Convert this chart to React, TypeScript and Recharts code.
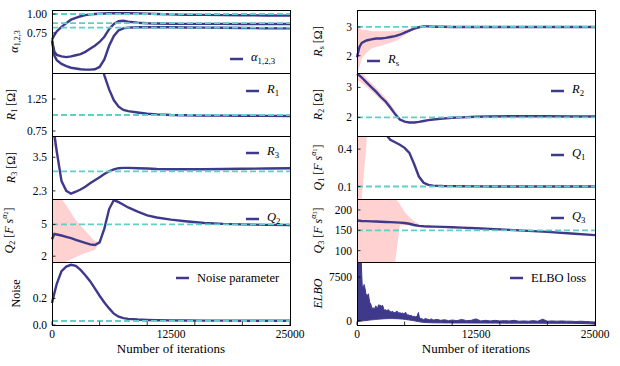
import React from 'react';
import { ComposedChart, Line, Area, XAxis, YAxis, ReferenceLine, Legend } from 'recharts';

const iterations = [0, 250, 500, 1000, 1500, 2000, 2500, 3000, 3500, 4000, 4500, 5000, 5500, 6000, 6500, 7000, 7500, 8000, 9000, 10000, 11000, 12500, 14000, 16000, 18000, 20000, 22500, 25000];

const alpha1 = [0.66, 0.72, 0.77, 0.83, 0.88, 0.925, 0.95, 0.97, 0.985, 0.995, 1.0, 1.004, 1.007, 1.01, 1.01, 1.01, 1.01, 1.01, 1.008, 1.005, 1.0, 0.995, 0.99, 0.988, 0.985, 0.983, 0.98, 0.978];
const alpha2 = [0.65, 0.5, 0.46, 0.44, 0.43, 0.44, 0.455, 0.47, 0.5, 0.54, 0.58, 0.63, 0.7, 0.8, 0.87, 0.905, 0.91, 0.9, 0.885, 0.878, 0.875, 0.872, 0.87, 0.87, 0.87, 0.868, 0.868, 0.868];
const alpha3 = [0.65, 0.45, 0.39, 0.34, 0.31, 0.29, 0.28, 0.27, 0.265, 0.265, 0.27, 0.3, 0.4, 0.58, 0.71, 0.785, 0.81, 0.82, 0.825, 0.825, 0.825, 0.825, 0.822, 0.82, 0.818, 0.815, 0.812, 0.81];
const alphaTrue = [1.0, 0.88, 0.82];

const r1 = [3.2, 3.1, 3.0, 2.9, 2.8, 2.7, 2.6, 2.5, 2.4, 2.3, 2.2, 1.95, 1.62, 1.4, 1.23, 1.13, 1.08, 1.06, 1.04, 1.02, 1.01, 1.0, 0.995, 0.99, 0.99, 0.988, 0.987, 0.985];
const r1True = [1.0];

const r3 = [4.8, 4.3, 3.7, 2.65, 2.3, 2.2, 2.27, 2.35, 2.45, 2.57, 2.68, 2.79, 2.9, 3.0, 3.07, 3.11, 3.12, 3.12, 3.11, 3.1, 3.08, 3.07, 3.07, 3.07, 3.08, 3.09, 3.1, 3.11];
const r3Lo = [3.6, 3.9, 3.5, 2.6];
const r3Hi = [4.5, 4.5, 4.1, 2.75];
const r3True = [3.0];

const q2 = [3.6, 4.1, 4.05, 3.95, 3.82, 3.7, 3.55, 3.4, 3.25, 3.12, 3.05, 3.3, 4.6, 6.45, 7.3, 7.1, 6.85, 6.6, 6.2, 5.85, 5.65, 5.45, 5.3, 5.14, 5.05, 5.0, 4.96, 4.95];
const q2Lo = [1.2, 1.2, 1.2, 1.3, 1.5, 1.7, 1.9, 2.1, 2.3, 2.45, 2.6, 3.25];
const q2Hi = [7.6, 7.6, 7.6, 7.4, 6.8, 6.1, 5.4, 4.9, 4.4, 3.9, 3.4, 3.35];
const q2True = [5];

const noise = [0.165, 0.24, 0.31, 0.405, 0.44, 0.453, 0.445, 0.415, 0.375, 0.33, 0.275, 0.22, 0.17, 0.125, 0.085, 0.062, 0.052, 0.046, 0.041, 0.038, 0.036, 0.035, 0.034, 0.033, 0.033, 0.032, 0.032, 0.032];
const noiseTrue = [0.03];

const rs = [1.95, 2.3, 2.45, 2.53, 2.57, 2.6, 2.6, 2.62, 2.65, 2.68, 2.73, 2.8, 2.87, 2.94, 2.99, 3.02, 3.02, 3.01, 3.01, 3.0, 3.0, 3.0, 3.0, 3.0, 3.0, 3.0, 3.0, 3.0];
const rsLo = [1.35, 1.6, 1.9, 2.1, 2.25, 2.3, 2.35, 2.4, 2.45, 2.5, 2.6, 2.7, 2.82, 2.92, 2.98];
const rsHi = [3.0, 2.95, 2.9, 2.9, 2.85, 2.85, 2.85, 2.85, 2.85, 2.85, 2.88, 2.9, 2.93, 2.97, 3.0];
const rsTrue = [3];

const r2 = [3.45, 3.4, 3.33, 3.17, 3.01, 2.86, 2.68, 2.53, 2.33, 2.11, 1.93, 1.86, 1.83, 1.83, 1.85, 1.88, 1.91, 1.93, 1.96, 1.99, 2.0, 2.02, 2.03, 2.04, 2.04, 2.04, 2.03, 2.03];
const r2Lo = [3.25, 3.2, 3.15, 3.02, 2.88, 2.74, 2.58, 2.43, 2.25, 2.05, 1.9, 1.84];
const r2Hi = [3.5, 3.5, 3.5, 3.3, 3.15, 3.0, 2.82, 2.66, 2.46, 2.22, 2.0, 1.9];
const r2True = [2];

const q1 = [1.2, 1.1, 1.0, 0.85, 0.75, 0.65, 0.58, 0.52, 0.475, 0.455, 0.435, 0.41, 0.37, 0.28, 0.18, 0.13, 0.113, 0.107, 0.104, 0.103, 0.102, 0.101, 0.1, 0.1, 0.1, 0.1, 0.1, 0.1];
const q1Lo = [0, 0, 0, 0.45];
const q1Hi = [0.52, 0.52, 0.52, 0.52];
const q1True = [0.1];

const q3 = [174, 173.5, 173, 172.5, 172, 171.5, 171, 170.5, 170, 169.5, 169, 168, 166, 163, 161, 160, 159.5, 159, 158.5, 157.5, 156.5, 155, 153.5, 151, 148.5, 146, 142, 138];
const q3Lo = [70, 70, 70, 70, 70, 70, 70, 70, 70, 70, 162, 163, 162, 160, 159, 159.5];
const q3Hi = [230, 230, 230, 230, 230, 230, 230, 230, 230, 230, 215, 195, 183, 172, 165, 160.5];
const q3True = [150];

// ELBO loss envelope (upper / lower edge of the noisy trace)
const elboIters = [0, 100, 200, 300, 400, 450, 500, 550, 650, 750, 850, 950, 1050, 1150, 1200, 1250, 1350, 1450, 1550, 1700, 1850, 1950, 2050, 2150, 2250, 2400, 2550, 2700, 2850, 3000, 3150, 3300, 3450, 3600, 3750, 3900, 4050, 4200, 4350, 4500, 4650, 4800, 4950, 5100, 5250, 5400, 5550, 5700, 5850, 6000, 6150, 6300, 6450, 6550, 6700, 6850, 7000, 7200, 7400, 7600, 7800, 8000, 8400, 8800, 9200, 9600, 10000, 10500, 11000, 11500, 12000, 12500, 13000, 13500, 14000, 14500, 15000, 15500, 16000, 16500, 17000, 17500, 18000, 18500, 19000, 19500, 20000, 20500, 21000, 21500, 22000, 22500, 23000, 23500, 24000, 24500, 25000];
const elboHi = [12000, 11000, 12000, 10500, 11500, 10200, 7800, 6000, 5600, 6200, 5500, 4400, 4500, 4300, 4600, 4000, 3000, 2900, 2100, 2200, 2000, 2500, 2400, 2000, 2700, 2650, 2500, 2600, 1800, 1850, 1700, 1900, 1550, 1500, 1600, 1350, 1450, 1650, 1300, 1350, 1250, 1300, 1100, 1450, 950, 1000, 850, 900, 700, 750, 650, 700, 1400, 600, 350, 300, 200, 350, 250, 150, 300, 100, 200, 50, 150, 0, 100, 0, 200, 0, 50, 300, -50, 50, -50, 50, -50, 0, -50, 50, -100, -50, -100, 0, -100, 250, -100, -50, -100, -50, -100, -100, -150, -100, -150, -200, -250];
const elboLo = [-150, -150, -150, -120, -100, -100, -80, -60, -40, -20, 0, 20, 40, 60, 70, 80, 100, 120, 140, 160, 180, 200, 210, 220, 240, 260, 280, 300, 320, 330, 340, 350, 350, 350, 350, 345, 340, 330, 320, 300, 280, 260, 230, 200, 170, 130, 90, 50, 10, -30, -80, -120, -160, -200, -230, -260, -300, -320, -340, -350, -360, -370, -380, -380, -390, -390, -400, -400, -400, -400, -410, -410, -410, -420, -420, -420, -420, -430, -430, -430, -430, -440, -440, -440, -440, -450, -450, -450, -460, -460, -460, -470, -480, -490, -520, -550, -600];

const xTickMarks = [0, 5000, 10000, 12500, 15000, 20000, 25000];
const xTickLabels = [0, 12500, 25000];

const SERIF = '"Liberation Serif", "Times New Roman", serif';
const PURPLE = '#3f398c';
const CYAN = '#5fcfc7';
const PINK = '#ffa3a3';

const ROW_TOP = 10;
const ROW_H = 63;
const AXIS_W = 52;
const PLOT_W = 238;
const RIGHT_PAD = 20;
const TOP_PAD = 8;
const XAXIS_H = 40;
const COL_LEFT = [0, 305];

function rowsFor(series: Record<string, number[]>, lo?: number[], hi?: number[]) {
  return iterations.map((it, i) => {
    const r: any = { it };
    Object.keys(series).forEach((k) => (r[k] = series[k][i]));
    if (lo && hi) r.band = lo[i] == null || hi[i] == null ? null : [lo[i], hi[i]];
    return r;
  });
}

const elboRows = elboIters.map((it, i) => ({ it, band: [elboLo[i], elboHi[i]] }));

function XTick(props: any) {
  const { x, y, payload, showLabel } = props;
  const v = payload.value;
  return (
    <g>
      {v % 5000 === 0 && <line x1={x} x2={x} y1={y} y2={y - 3.5} stroke="#000" strokeWidth={0.8} />}
      {showLabel && xTickLabels.includes(v) && (
        <text x={x} y={y + 12.5} textAnchor="middle" fontFamily={SERIF} fontSize={11.5} fill="#000">
          {v}
        </text>
      )}
    </g>
  );
}

function YTick(props: any) {
  const { x, y, payload, digits } = props;
  return (
    <g>
      <line x1={x} x2={x + 3.5} y1={y} y2={y} stroke="#000" strokeWidth={0.8} />
      <text x={x - 5} y={y} dy={4} textAnchor="end" fontFamily={SERIF} fontSize={11.5} fill="#000">
        {payload.value.toFixed(digits)}
      </text>
    </g>
  );
}

function YLabel({ viewBox, cx, children }: any) {
  const cy = viewBox.y + viewBox.height / 2;
  return (
    <text x={cx} y={cy} transform={`rotate(-90 ${cx} ${cy})`} textAnchor="middle" dominantBaseline="central" fontFamily={SERIF} fontSize={12} fill="#000">
      {children}
    </text>
  );
}

function LegendKey({ children }: any) {
  return (
    <div style={{ display: 'flex', alignItems: 'center', fontFamily: SERIF, fontSize: 12.5, color: '#000', whiteSpace: 'nowrap', lineHeight: '16px' }}>
      <svg width={13} height={4} style={{ marginRight: 8 }}>
        <line x1={0} y1={2} x2={13} y2={2} stroke={PURPLE} strokeWidth={2.5} />
      </svg>
      <span>{children}</span>
    </div>
  );
}

// subscripted symbol for svg labels
const SubT = ({ s, sub }: { s: string; sub: string }) => (
  <>
    <tspan fontStyle="italic">{s}</tspan>
    <tspan fontSize={8} dy={3}>{sub}</tspan>
    <tspan dy={-3}> </tspan>
  </>
);
const OhmLabel = ({ sub }: { sub: string }) => (
  <>
    <SubT s="R" sub={sub} />
    <tspan>[Ω]</tspan>
  </>
);
const QLabel = ({ sub }: { sub: string }) => (
  <>
    <SubT s="Q" sub={sub} />
    <tspan>[</tspan>
    <tspan fontStyle="italic">F s</tspan>
    <tspan fontStyle="italic" fontSize={8} dy={-5}>α</tspan>
    <tspan fontSize={6} dy={2}>{sub}</tspan>
    <tspan dy={3}>]</tspan>
  </>
);
const Sub = ({ s, sub }: { s: string; sub: string }) => (
  <span>
    <i>{s}</i>
    <sub style={{ fontSize: '70%', verticalAlign: '-3px' }}>{sub}</sub>
  </span>
);

type PanelCfg = {
  col: number;
  row: number;
  data: any[];
  lines: string[];
  band?: boolean;
  elbo?: boolean;
  domain: [number, number];
  yTicks: number[];
  digits: number;
  truths: number[];
  yLabel: React.ReactNode;
  yLabelX: number;
  legend: React.ReactNode;
  legendX: number;
  legendY: number;
};

function Panel(p: PanelCfg) {
  const left = COL_LEFT[p.col];
  const top = ROW_TOP + p.row * ROW_H - TOP_PAD;
  const bottom = p.row === 4;
  const h = TOP_PAD + ROW_H + (bottom ? XAXIS_H : 0);
  const w = AXIS_W + PLOT_W + RIGHT_PAD;
  return (
    <div style={{ position: 'absolute', left, top, width: w, height: h }}>
      <ComposedChart width={w} height={h} data={p.data} margin={{ top: TOP_PAD, right: RIGHT_PAD, bottom: 0, left: 0 }}>
        <XAxis
          dataKey="it"
          type="number"
          domain={[0, 25000]}
          ticks={xTickMarks}
          interval={0}
          axisLine={false}
          tickLine={false}
          tickSize={0}
          tickMargin={0}
          height={bottom ? XAXIS_H : 0}
          tick={(t: any) => <XTick {...t} showLabel={bottom} />}
          label={bottom ? { value: 'Number of iterations', position: 'insideBottom', offset: 12, fill: '#000', fontSize: 13, fontFamily: SERIF } : undefined}
        />
        <YAxis
          type="number"
          domain={p.domain}
          allowDataOverflow
          ticks={p.yTicks}
          interval={0}
          width={AXIS_W}
          axisLine={false}
          tickLine={false}
          tickSize={0}
          tickMargin={0}
          tick={(t: any) => <YTick {...t} digits={p.digits} />}
          label={{ content: (l: any) => <YLabel viewBox={l.viewBox} cx={p.yLabelX}>{p.yLabel}</YLabel> }}
        />
        {p.band && (
          <Area dataKey="band" type="linear" stroke="none" fill={PINK} fillOpacity={0.5} connectNulls={false} isAnimationActive={false} />
        )}
        {p.elbo && (
          <Area dataKey="band" type="linear" stroke={PURPLE} strokeWidth={1} fill={PURPLE} fillOpacity={1} isAnimationActive={false} />
        )}
        {p.lines.map((k) => (
          <Line key={k} dataKey={k} type="linear" stroke={PURPLE} strokeWidth={2.4} dot={false} isAnimationActive={false} />
        ))}
        {p.truths.map((v) => (
          <ReferenceLine key={v} y={v} stroke={CYAN} strokeWidth={1.8} strokeDasharray="6 3" />
        ))}
        <Legend
          layout="horizontal"
          verticalAlign="middle"
          align="center"
          wrapperStyle={{ left: p.legendX, top: TOP_PAD + p.legendY - 8, width: 'auto', height: 16 }}
          content={() => <LegendKey>{p.legend}</LegendKey>}
        />
      </ComposedChart>
      <div
        style={{
          position: 'absolute',
          left: AXIS_W,
          top: TOP_PAD,
          width: PLOT_W + 1,
          height: ROW_H + 1,
          border: '1px solid #000',
          boxSizing: 'border-box',
          pointerEvents: 'none',
        }}
      />
    </div>
  );
}

const panels: PanelCfg[] = [
  {
    col: 0, row: 0, data: rowsFor({ a1: alpha1, a2: alpha2, a3: alpha3 }), lines: ['a1', 'a2', 'a3'],
    domain: [0.22, 1.053], yTicks: [0.75, 1.0], digits: 2, truths: alphaTrue,
    yLabel: <><tspan fontStyle="italic">α</tspan><tspan fontSize={8} dy={3}>1,2,3</tspan><tspan dy={-3}> </tspan></>, yLabelX: 14,
    legend: <Sub s="α" sub="1,2,3" />, legendX: 230, legendY: 47,
  },
  {
    col: 0, row: 1, data: rowsFor({ v: r1 }), lines: ['v'],
    domain: [0.672, 1.656], yTicks: [0.75, 1.25], digits: 2, truths: r1True,
    yLabel: <OhmLabel sub="1" />, yLabelX: 11,
    legend: <Sub s="R" sub="1" />, legendX: 246, legendY: 16,
  },
  {
    col: 0, row: 2, data: rowsFor({ v: r3 }, r3Lo, r3Hi), lines: ['v'], band: true,
    domain: [2.01, 4.26], yTicks: [2.3, 3.5], digits: 1, truths: r3True,
    yLabel: <OhmLabel sub="3" />, yLabelX: 11,
    legend: <Sub s="R" sub="3" />, legendX: 246, legendY: 15,
  },
  {
    col: 0, row: 3, data: rowsFor({ v: q2 }, q2Lo, q2Hi), lines: ['v'], band: true,
    domain: [1.45, 7.4], yTicks: [2, 5], digits: 0, truths: q2True,
    yLabel: <QLabel sub="2" />, yLabelX: 9,
    legend: <Sub s="Q" sub="2" />, legendX: 246, legendY: 18,
  },
  {
    col: 0, row: 4, data: rowsFor({ v: noise }), lines: ['v'],
    domain: [0, 0.474], yTicks: [0, 0.2], digits: 1, truths: noiseTrue,
    yLabel: <tspan>Noise</tspan>, yLabelX: 16,
    legend: <span>Noise parameter</span>, legendX: 176, legendY: 16,
  },
  {
    col: 1, row: 0, data: rowsFor({ v: rs }, rsLo, rsHi), lines: ['v'], band: true,
    domain: [1.4, 3.59], yTicks: [2, 3], digits: 0, truths: rsTrue,
    yLabel: <OhmLabel sub="s" />, yLabelX: 13,
    legend: <Sub s="R" sub="s" />, legendX: 62, legendY: 49,
  },
  {
    col: 1, row: 1, data: rowsFor({ v: r2 }, r2Lo, r2Hi), lines: ['v'], band: true,
    domain: [1.38, 3.48], yTicks: [2, 3], digits: 0, truths: r2True,
    yLabel: <OhmLabel sub="2" />, yLabelX: 13,
    legend: <Sub s="R" sub="2" />, legendX: 246, legendY: 16,
  },
  {
    col: 1, row: 2, data: rowsFor({ v: q1 }, q1Lo, q1Hi), lines: ['v'], band: true,
    domain: [0, 0.505], yTicks: [0.1, 0.4], digits: 1, truths: q1True,
    yLabel: <QLabel sub="1" />, yLabelX: 12.5,
    legend: <Sub s="Q" sub="1" />, legendX: 246, legendY: 17,
  },
  {
    col: 1, row: 3, data: rowsFor({ v: q3 }, q3Lo, q3Hi), lines: ['v'], band: true,
    domain: [72, 227], yTicks: [100, 150, 200], digits: 0, truths: q3True,
    yLabel: <QLabel sub="3" />, yLabelX: 12.5,
    legend: <Sub s="Q" sub="3" />, legendX: 246, legendY: 17,
  },
  {
    col: 1, row: 4, data: elboRows, lines: [], elbo: true,
    domain: [-750, 10064], yTicks: [0, 7500], digits: 0, truths: [],
    yLabel: <tspan fontStyle="italic">ELBO</tspan>, yLabelX: 13,
    legend: <span>ELBO loss</span>, legendX: 205, legendY: 16,
  },
];

export default function App() {
  return (
    <div style={{ position: 'absolute', left: 0, top: 0, width: 620, height: 366, background: '#fff' }}>
      {panels.map((p, i) => (
        <Panel key={i} {...p} />
      ))}
    </div>
  );
}
